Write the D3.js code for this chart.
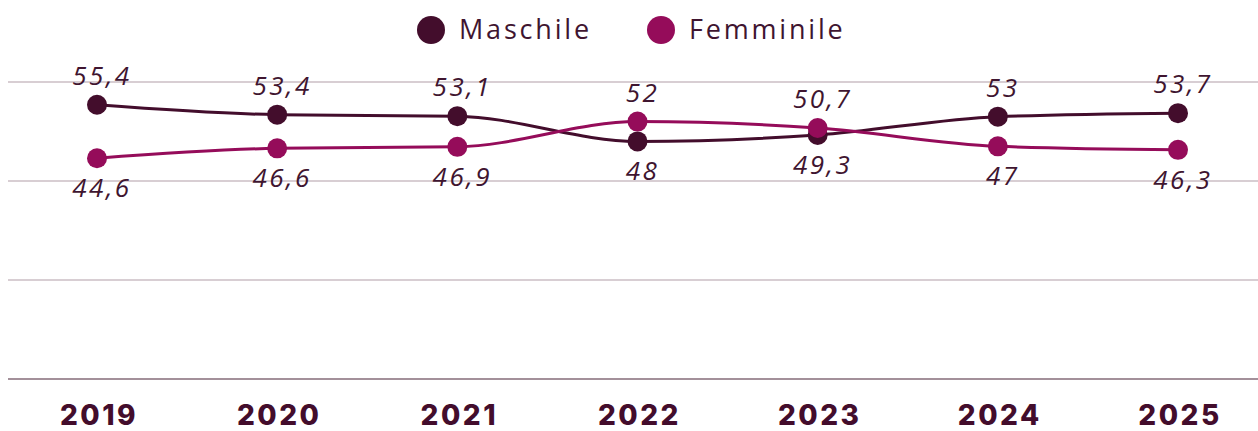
<!DOCTYPE html>
<html><head><meta charset="utf-8">
<script src="https://cdn.jsdelivr.net/npm/d3@7"></script>
<style>body{margin:0;background:#fff}svg{display:block}</style>
</head><body><svg id="c" width="1258" height="431"></svg>
<script>
const years = ["2019","2020","2021","2022","2023","2024","2025"];
const maschile = [55.4, 53.4, 53.1, 48, 49.3, 53, 53.7];
const femminile = [44.6, 46.6, 46.9, 52, 50.7, 47, 46.3];
const seriesNames = ["Maschile","Femminile"];
const colors = ["#430d2c","#950c5a"];
const yTicks = [0,20,40,60];

const svg = d3.select("#c");
const W = 1258, H = 431;
const x = d3.scalePoint().domain(years).range([97, 1178]);
const y = d3.scaleLinear().domain([0,60]).range([379, 82]);

// grid
svg.append("g").selectAll("line").data(yTicks).join("line")
  .attr("x1", 8).attr("x2", W).attr("y1", d=>y(d)).attr("y2", d=>y(d))
  .attr("stroke", d=> d===0 ? "#a3909a" : "#d8ced3").attr("stroke-width", 2);

// x axis labels
svg.append("g").selectAll("text").data(years).join("text")
  .attr("x", d=>x(d) + 2).attr("y", 425).attr("text-anchor","middle")
  .attr("font-family","Inter, 'Noto Sans', sans-serif").attr("font-weight",800)
  .attr("font-size", 28).attr("letter-spacing", 2.5).attr("fill","#430d2c").text(d=>d);

const data = [maschile, femminile];
const line = d3.line().x((d,i)=>x(years[i])).y(d=>y(d)).curve(d3.curveMonotoneX);
data.forEach((vals, s) => {
  svg.append("path").datum(vals).attr("d", line).attr("fill","none")
    .attr("stroke", colors[s]).attr("stroke-width", 3);
});
data.forEach((vals, s) => {
  svg.append("g").selectAll("circle").data(vals).join("circle")
    .attr("cx", (d,i)=>x(years[i])).attr("cy", d=>y(d)).attr("r", 10)
    .attr("fill", colors[s]);
});
// labels
const fmt = v => String(v).replace(".", ",");
data.forEach((vals, s) => {
  const other = data[1-s];
  svg.append("g").selectAll("text").data(vals).join("text")
    .attr("x", (d,i)=>x(years[i]) + 5)
    .attr("y", (d,i)=> d >= other[i] ? y(d) - 20 : y(d) + 39)
    .attr("text-anchor","middle")
    .attr("font-family","'Open Sans', sans-serif").attr("font-style","italic")
    .attr("font-weight",400).attr("font-size", 26).attr("letter-spacing", 2.5).attr("fill","#3f1530")
    .text(d=>fmt(d));
});

// legend
const leg = svg.append("g");
const legX = [431, 661];
seriesNames.forEach((n, s) => {
  leg.append("circle").attr("cx", legX[s]).attr("cy", 30).attr("r", 14).attr("fill", colors[s]);
  leg.append("text").attr("x", legX[s] + 28).attr("y", 39)
    .attr("font-family","'Open Sans', sans-serif").attr("font-size", 27).attr("letter-spacing", 2.8)
    .attr("fill","#3f1530").text(n);
});
</script></body></html>
